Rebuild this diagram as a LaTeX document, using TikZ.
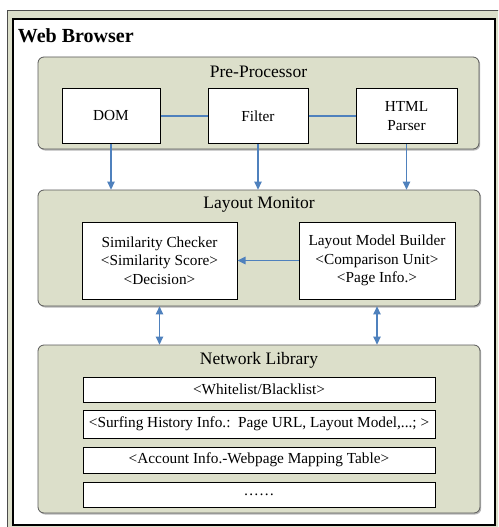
\documentclass[tikz,border=0pt]{standalone}
\usepackage{fontspec}
\setmainfont{Liberation Serif}
\usetikzlibrary{arrows.meta}
\usetikzlibrary{shadows}

\definecolor{panelfill}{RGB}{220,223,202}
\definecolor{linkblue}{RGB}{79,129,189}

\tikzset{
  panel/.style={draw=black!65, fill=panelfill, line width=0.8pt, rounded corners=6pt,
    drop shadow={shadow xshift=1.2pt, shadow yshift=-1.5pt, fill=black!35, opacity=0.8}},
  paneltitle/.style={inner sep=0.75pt, font=\fontsize{17.5}{20}\selectfont},
  unit/.style={draw=black, fill=white, line width=1pt, align=center, inner sep=2pt,
    font=\fontsize{15.3}{18.5}\selectfont},
  tablerow/.style={unit, minimum width=352, minimum height=26},
  link/.style={draw=linkblue, line width=1.2pt},
  flow/.style={link, -{Triangle[width=7.5pt,length=8pt]}},
  twoway/.style={link, {Triangle[width=7.5pt,length=8pt]}-{Triangle[width=7.5pt,length=8pt]}},
}

\begin{document}
\begin{tikzpicture}[x=1pt,y=1pt,yscale=-1]
\useasboundingbox (0,0) rectangle (498,527);
\clip (0,0) rectangle (498,527);

%Browser frame
\draw [draw=black!70, fill=panelfill, line width=0.8pt] (7,10) rectangle (510,540);
\draw [draw=black, fill=white, line width=1.2pt] (13,19) rectangle (495,525);
\node [anchor=west, inner sep=0.75pt, font=\fontsize{20}{22}\selectfont\bfseries] (browser) at (17,36) {Web Browser};

%Pre-Processor
\node [panel, minimum width=441, minimum height=92] (pre) at (258.5,103) {};
\node [paneltitle] (preT) at (258.5,72) {Pre-Processor};
\node [unit, minimum width=98, minimum height=55] (dom) at (111,116) {DOM};
\node [unit, minimum width=100, minimum height=55] (filter) at (258,116) {Filter};
\node [unit, minimum width=101, minimum height=55] (html) at (406.5,116) {HTML\\Parser};
\draw [link] (dom) -- (filter);
\draw [link] (filter) -- (html);

%Layout Monitor
\node [panel, minimum width=442, minimum height=116] (mon) at (259,248) {};
\node [paneltitle] (monT) at (259,205) {Layout Monitor};
\node [unit, minimum width=155, minimum height=77] (sim) at (159.5,260.5)
  {Similarity Checker\\<Similarity Score>\\<Decision>};
\node [unit, minimum width=156, minimum height=77] (lmb) at (377,260.5)
  {Layout Model Builder\\<Comparison Unit>\\<Page Info.>};
\draw [flow] (lmb) -- (sim);

%Network Library
\node [panel, minimum width=442, minimum height=168] (lib) at (259,429) {};
\node [paneltitle] (libT) at (259,360) {Network Library};
\node [tablerow, minimum height=25] (wl) at (259,389.5) {<Whitelist/Blacklist>};
\node [tablerow, minimum height=28] (hist) at (259,424) {<Surfing History Info.:\ \ Page URL, Layout Model,...; >};
\node [tablerow] (acct) at (259,460) {<Account Info.-Webpage Mapping Table>};
\node [tablerow, minimum height=25] (more) at (259,494.5) {……};

%links between panels
\draw [flow] (dom) -- (dom |- mon.north);
\draw [flow] (filter) -- (filter |- mon.north);
\draw [flow] (html) -- (html |- mon.north);
\draw [twoway] (sim |- mon.south) -- (sim |- lib.north);
\draw [twoway] (lmb |- mon.south) -- (lmb |- lib.north);

\end{tikzpicture}
\end{document}
